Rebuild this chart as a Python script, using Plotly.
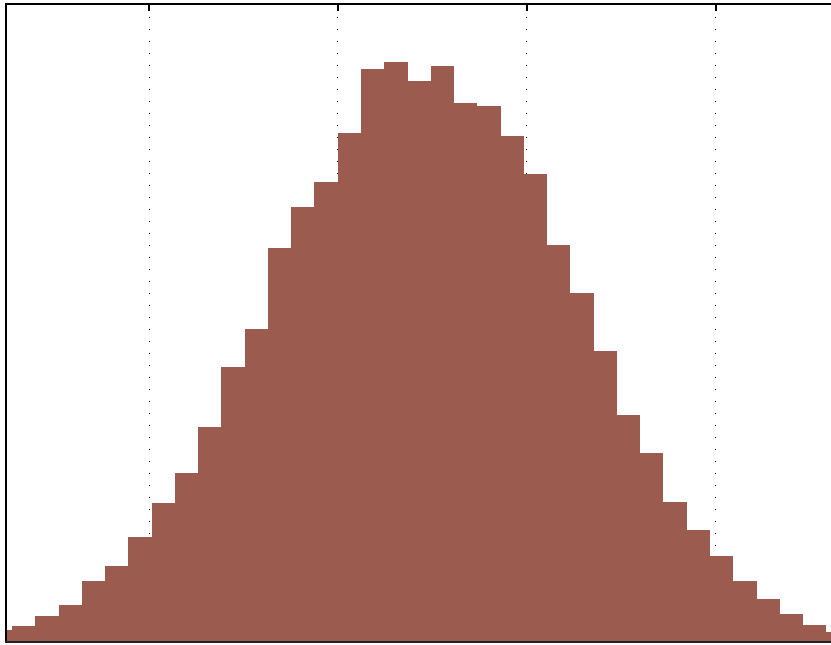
import numpy as np
import plotly.graph_objects as go

# Histogram counts per bin (left to right)
counts = [11, 15, 25, 36, 60, 75, 104, 138, 168, 214, 274, 312, 393, 434, 459,
          508, 572, 579, 560, 575, 538, 535, 505, 467, 396, 348, 290, 226, 188,
          139, 111, 85, 60, 42, 27, 16, 9]
bin_first_edge = -1.848
bin_width = 0.1231
x_ticks = [-1, 0, 1, 2]
x_range = [-1.7513, 2.6085]
y_range = [0, 636]

edges = bin_first_edge + bin_width * np.arange(len(counts) + 1)
centers = (edges[:-1] + edges[1:]) / 2

fig = go.Figure()
fig.add_trace(go.Bar(
    x=centers, y=counts, width=bin_width,
    marker=dict(color="#9b5c4f", line=dict(width=0)),
    hoverinfo="skip", showlegend=False,
))
# invisible trace for the top axis
fig.add_trace(go.Scatter(x=[x_ticks[0]], y=[0], xaxis="x2", mode="markers",
                         marker=dict(opacity=0), hoverinfo="skip", showlegend=False))

fig.update_layout(
    width=831, height=645,
    margin=dict(l=7, r=0, t=5, b=4),
    paper_bgcolor="white", plot_bgcolor="white",
    bargap=0,
    xaxis=dict(
        range=x_range, tickvals=x_ticks, showticklabels=False, ticks="",
        showgrid=True, gridcolor="black", gridwidth=1, griddash="1px,11px",
        showline=True, linecolor="#222222", linewidth=1.5,
        zeroline=False,
    ),
    xaxis2=dict(
        overlaying="x", side="top", matches="x", range=x_range,
        tickvals=x_ticks, showticklabels=False, ticks="inside", ticklen=6,
        tickcolor="black", tickwidth=1.5,
        showgrid=False, showline=True, linecolor="black", linewidth=2,
        zeroline=False,
    ),
    yaxis=dict(
        range=y_range, showticklabels=False, ticks="", showgrid=False,
        showline=True, linecolor="black", linewidth=2, zeroline=False,
    ),
)

fig.write_html(
    "out.html",
    config={"displayModeBar": False, "staticPlot": True},
    post_script="document.body.style.margin='0';document.body.style.overflow='hidden';",
)
